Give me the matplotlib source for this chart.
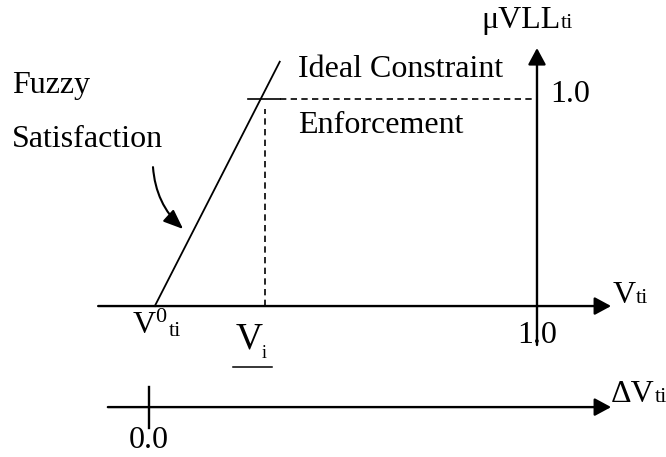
import matplotlib.pyplot as plt

plt.rcParams['font.family'] = ['Liberation Serif', 'DejaVu Serif']

# diagram values (V_ti scale: 0.0 at the delta axis tick, 1.0 at the membership axis)
v0 = 0.015            # V0_ti, start of the fuzzy satisfaction line
v_i = 0.30            # V_i, ideal constraint point
v_max = 1.0           # 1.0 on V_ti axis
mu_max = 1.0          # membership 1.0
delta_zero = 0.0      # 0.0 on delta V_ti axis
fuzzy_x = [v0, 0.337]
fuzzy_y = [0.0, 1.18]
delta_axis_y = -0.488

BLACK = "black"
FS = 23
FS_NUM = 23
FS_SUB = 16
AXIS_LW = 1.7
DASH = (0, (3.8, 2.6))

fig = plt.figure(figsize=(6.66, 4.57), dpi=100)
ax = fig.add_axes([0, 0, 1, 1])
ax.set_xlim(-0.384, 1.3325)
ax.set_ylim(-0.729, 1.478)
ax.axis("off")


def arrow(x0, y0, x1, y1, lw=AXIS_LW, hl=0.5, hw=0.27):
    ax.annotate("", xy=(x1, y1), xytext=(x0, y0),
                arrowprops=dict(arrowstyle=f"-|>,head_length={hl},head_width={hw}",
                                lw=lw, color=BLACK, shrinkA=0, shrinkB=0,
                                mutation_scale=20))


def label(x, y, main, sub=None, sub_dy=0.0, sup=None, sup_dy=0.0, size=FS):
    t = ax.text(x, y, main, fontsize=size, va="baseline")
    if sup is not None:
        ax.annotate(sup, xy=(1, y + sup_dy), xycoords=(t, "data"),
                    fontsize=FS_SUB, va="baseline")
    if sub is not None:
        ax.annotate(sub, xy=(1, y + sub_dy), xycoords=(t, "data"),
                    xytext=(10 if sup is not None else 0, 0), textcoords="offset points",
                    fontsize=FS_SUB, va="baseline")
    return t


# axes
arrow(-0.131, 0.0, 1.191, 0.0)                        # V_ti axis
arrow(v_max, -0.188, v_max, 1.246)                    # membership axis
arrow(-0.106, delta_axis_y, 1.191, delta_axis_y)      # delta V_ti axis
ax.plot([delta_zero, delta_zero], [-0.391, -0.59], color=BLACK, lw=AXIS_LW)

# fuzzy line and ideal constraint dashes
ax.plot(fuzzy_x, fuzzy_y, color=BLACK, lw=1.3)
ax.plot([0.255, 0.338], [mu_max, mu_max], color=BLACK, lw=1.2)
ax.plot([0.338, v_max], [mu_max, mu_max], color=BLACK, lw=1.2, linestyle=DASH)
ax.plot([v_i, v_i], [0.0, 0.95], color=BLACK, lw=1.2, linestyle=DASH)

# curved pointer
ax.annotate("", xy=(0.088, 0.372), xytext=(0.0103, 0.671),
            arrowprops=dict(arrowstyle="-|>,head_length=0.6,head_width=0.24",
                            lw=1.5, color=BLACK, shrinkA=0, shrinkB=0,
                            mutation_scale=20, connectionstyle="arc3,rad=0.2"))

# labels
ax.text(-0.353, 1.029, "Fuzzy", fontsize=FS, va="baseline")
ax.text(-0.353, 0.768, "Satisfaction", fontsize=FS, va="baseline")
ax.text(0.384, 1.106, "Ideal Constraint", fontsize=FS, va="baseline")
ax.text(0.384, 0.836, "Enforcement", fontsize=FS, va="baseline")
label(0.856, 1.343, "\u03bcVLL", sub="ti")
ax.text(1.034, 0.986, "1.0", fontsize=FS_NUM, va="baseline")
label(1.196, 0.0145, "V", sub="ti")
ax.text(v_max, -0.18, "1.0", fontsize=FS_NUM, va="baseline", ha="center")
label(-0.043, -0.130, "V", sup="0", sup_dy=0.055, sub="ti", sub_dy=-0.015)
vi = label(0.222, -0.203, "V", size=27)
ax.annotate("i", xy=(1, -0.251), xycoords=(vi, "data"), xytext=(0, 0),
            textcoords="offset points", fontsize=13, va="baseline")
ax.plot([0.217, 0.317], [-0.295, -0.295], color=BLACK, lw=1.1)
label(1.191, -0.464, "\u0394V", sub="ti")
ax.text(delta_zero, -0.686, "0.0", fontsize=FS_NUM, va="baseline", ha="center")

fig.savefig("out.png", dpi=100)
